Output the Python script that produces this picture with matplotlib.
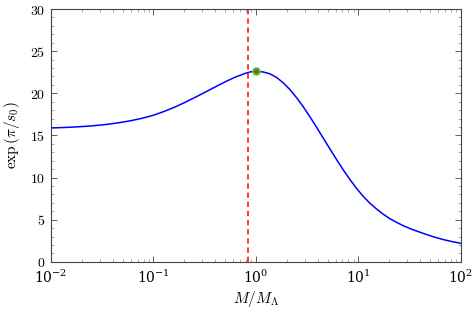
import numpy as np
import matplotlib
matplotlib.use("Agg")
import matplotlib.pyplot as plt
from matplotlib.ticker import LogLocator, MultipleLocator, FuncFormatter

plt.rcParams['mathtext.fontset'] = 'cm'
plt.rcParams['font.family'] = 'serif'
plt.rcParams['font.serif'] = ['DejaVu Serif']

# curve (log10 of M/M_Lambda, value)
log_m = [-2.0, -1.9, -1.8, -1.7, -1.6, -1.5, -1.4, -1.3, -1.2, -1.1, -1.0,
         -0.9, -0.8, -0.7, -0.6, -0.5, -0.4, -0.3, -0.2, -0.1, -0.05,
         0.0, 0.071, 0.137, 0.202, 0.267, 0.332, 0.397, 0.462,
         0.527, 0.592, 0.657, 0.722, 0.787, 0.852, 0.917, 0.982, 1.047,
         1.112, 1.178, 1.242, 1.307, 1.373, 1.437, 1.502, 1.568, 1.65,
         1.73, 1.82, 1.91, 2.0]
exp_val = [15.89, 15.93, 15.98, 16.05, 16.14, 16.25, 16.40, 16.58, 16.80,
           17.07, 17.40, 17.83, 18.32, 18.88, 19.48, 20.10, 20.74, 21.36,
           21.93, 22.38, 22.55,
           22.62, 22.53, 22.31, 21.88, 21.24, 20.44, 19.48, 18.4,
           17.22, 15.97, 14.69, 13.41, 12.15, 10.93, 9.78, 8.72, 7.78,
           6.97, 6.27, 5.66, 5.13, 4.69, 4.30, 3.96, 3.66, 3.31,
           2.99, 2.67, 2.42, 2.2]

m_line = 0.835           # dashed red line
peak_m, peak_val = 1.0, 22.62

fig = plt.figure(figsize=(4.77, 3.11), dpi=100)
ax = fig.add_axes([0.107, 0.158, 0.859, 0.813])

m = 10 ** np.array(log_m)
ax.plot(m, exp_val, color='#0000ff', lw=1.1)
ax.axvline(m_line, color='#ff0000', lw=1.1, ls=(0, (3.5, 2.5)))
ax.plot([peak_m], [peak_val], 'o', ms=5, mfc='#b04a20', mec='#33dd33', mew=1.2)

ax.set_xscale('log')
ax.set_xlim(1e-2, 1e2)
ax.set_ylim(0, 30)
ax.xaxis.set_major_locator(LogLocator(base=10, numticks=10))
ax.xaxis.set_minor_locator(LogLocator(base=10, subs=np.arange(2, 10), numticks=20))
ax.yaxis.set_major_locator(MultipleLocator(5))
ax.yaxis.set_minor_locator(MultipleLocator(1))
ax.yaxis.set_major_formatter(FuncFormatter(lambda v, p: r'$%d$' % v))

ax.tick_params(which='both', direction='in', top=True, right=True,
               labelsize=10, color='#444444')
ax.tick_params(which='major', length=4, width=0.6)
ax.tick_params(which='minor', length=2.5, width=0.5, color='#888888')
ax.tick_params(axis='y', pad=4)
ax.tick_params(axis='x', pad=5)
for s in ax.spines.values():
    s.set_color('#444444')
    s.set_linewidth(0.8)

ax.set_xlabel(r'$M/M_\Lambda$', fontsize=11, labelpad=2)
ax.set_ylabel(r'$\exp\left(\pi/s_0\right)$', fontsize=11, labelpad=6)

fig.savefig('out.png', dpi=100)
